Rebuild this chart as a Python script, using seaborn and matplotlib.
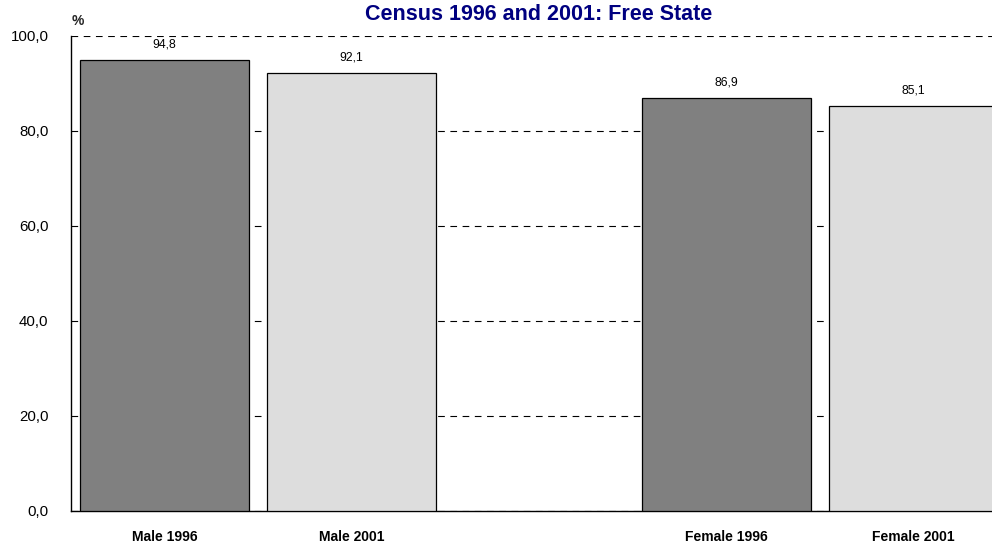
import numpy as np
import pandas as pd
import matplotlib
matplotlib.use("Agg")
import matplotlib.pyplot as plt
from matplotlib.ticker import FuncFormatter
import seaborn as sns

# Data
categories = ["Male 1996", "Male 2001", "Female 1996", "Female 2001"]
values = [94.8, 92.1, 86.9, 85.1]
bar_colors = ["#808080", "#DDDDDD", "#808080", "#DDDDDD"]
order = ["Male 1996", "Male 2001", " ", "Female 1996", "Female 2001"]
yticks = [0, 20, 40, 60, 80, 100]
title = "Census 1996 and 2001: Free State"

df = pd.DataFrame({"group": categories, "pct": values})

sns.set_theme(style="white")
plt.rcParams["font.family"] = ["Liberation Sans", "DejaVu Sans"]

fig = plt.figure(figsize=(9.92, 5.44), dpi=100)
ax = fig.add_axes([0.0713, 0.0607, 0.944, 0.874])

palette = dict(zip(categories, bar_colors))
sns.barplot(data=df, x="group", y="pct", hue="group", order=order,
            hue_order=categories, palette=palette, legend=False,
            width=0.902, edgecolor="black", linewidth=0.9, saturation=1,
            ax=ax, zorder=3)

ax.set_xlim(-0.5, 4.5)
ax.set_ylim(0, 100)
ax.set_yticks(yticks)
ax.yaxis.set_major_formatter(FuncFormatter(lambda v, p: f"{v:.1f}".replace(".", ",")))
ax.yaxis.grid(True, color="black", linestyle=(0, (6, 5)), linewidth=0.8, zorder=0)
ax.xaxis.grid(False)
ax.set_axisbelow(True)

for s in ["top", "right"]:
    ax.spines[s].set_visible(False)
for s in ["left", "bottom"]:
    ax.spines[s].set_color("black")
    ax.spines[s].set_linewidth(1.0)

ax.tick_params(axis="y", length=0, pad=16, labelsize=10.8, colors="black")
ax.tick_params(axis="x", length=0, pad=14, labelsize=10, colors="black")
for lbl in ax.get_xticklabels():
    lbl.set_fontweight("bold")
ax.set_xlabel("")
ax.set_ylabel("")

# value labels above bars
for cont in ax.containers:
    ax.bar_label(cont, labels=[f"{v:.1f}".replace(".", ",") for v in cont.datavalues],
                 padding=7, fontsize=8.8, color="black")

ax.set_title(title, fontsize=15.5, fontweight="bold", color="#000080", pad=11)
ax.text(0.001, 1.016, "%", transform=ax.transAxes, fontsize=10, fontweight="bold",
        ha="left", va="bottom")

fig.savefig("out.png", dpi=100)
